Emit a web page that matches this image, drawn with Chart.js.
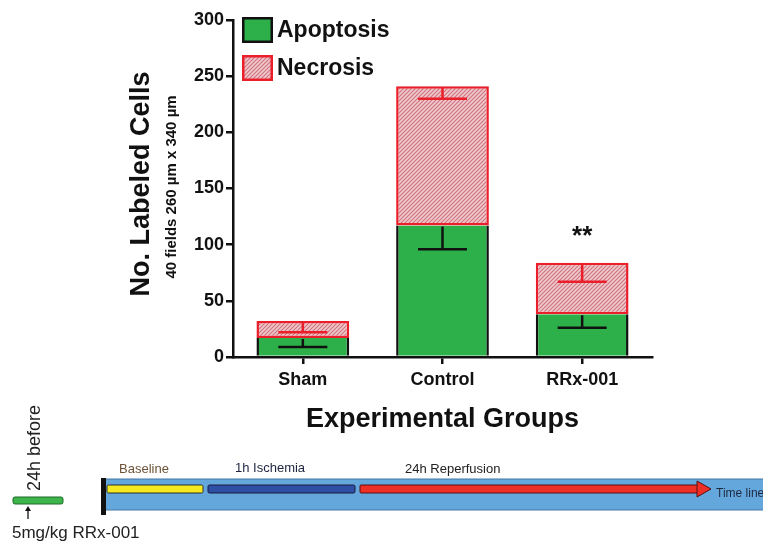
<!DOCTYPE html>
<html>
<head>
<meta charset="utf-8">
<script src="https://cdn.jsdelivr.net/npm/chart.js@4.4.1/dist/chart.umd.min.js"></script>
<style>
  body { margin: 0; background: #fff; }
  #wrap { position: relative; width: 763px; height: 547px; overflow: hidden; }
  #chart { position: absolute; left: 0; top: 0; }
  #timeline { position: absolute; left: 0; top: 0; }
</style>
</head>
<body>
<div id="wrap">
  <canvas id="chart" width="763" height="547"></canvas>
  <svg id="timeline" width="763" height="547" font-family="Liberation Sans, Arial, sans-serif">
    <!-- pre-treatment -->
    <text transform="translate(40,448) rotate(-90)" text-anchor="middle" font-size="18" fill="#222">24h before</text>
    <rect x="13" y="497" width="50" height="7" rx="2" fill="#3db54a" stroke="#1f6b2a" stroke-width="1"/>
    <line x1="28" y1="519" x2="28" y2="510" stroke="#111" stroke-width="1.3"/>
    <polygon points="25,511 31,511 28,506" fill="#111"/>
    <text x="12" y="538" font-size="17" fill="#222">5mg/kg RRx-001</text>
    <!-- protocol band -->
    <rect x="104" y="479" width="670" height="31" fill="#64a7dd" stroke="#4679a6" stroke-width="1"/>
    <rect x="101" y="478" width="5" height="37" fill="#111"/>
    <rect x="107" y="485" width="96" height="8" rx="1.5" fill="#f5ea1f" stroke="#2d2d2d" stroke-width="1"/>
    <rect x="208" y="485" width="147" height="8" rx="1.5" fill="#2d4fa5" stroke="#1b1b3a" stroke-width="1"/>
    <rect x="360" y="485" width="338" height="8" rx="1" fill="#ee2f26" stroke="#5a1010" stroke-width="1"/>
    <polygon points="697,481 711,489 697,497" fill="#ee2f26" stroke="#5a1010" stroke-width="1"/>
    <text x="119" y="473" font-size="13" fill="#6d5236">Baseline</text>
    <text x="235" y="472" font-size="13" fill="#1e2440">1h Ischemia</text>
    <text x="405" y="473" font-size="13" fill="#222">24h Reperfusion</text>
    <text x="716" y="497" font-size="12" fill="#1e2a40">Time line</text>
  </svg>
</div>
<script>
"use strict";

const groups = ["Sham", "Control", "RRx-001"];
const apoptosis = [17, 117, 38];
const necrosis = [15, 124, 46];
const apoptosisErr = [8, 21, 12];
const necrosisErr = [10, 11, 17];
const significance = ["", "", "**"];
const yTicks = [0, 50, 100, 150, 200, 250, 300];

const FONT = "'Liberation Sans', Arial, Helvetica, sans-serif";
const GREEN = "#2db04a";
const RED = "#ea1f2a";

const makeHatch = () => {
  const c = document.createElement("canvas");
  c.width = 4;
  c.height = 4;
  const g = c.getContext("2d");
  g.fillStyle = "#edc8cc";
  g.fillRect(0, 0, 4, 4);
  g.strokeStyle = "#d0727d";
  g.lineWidth = 1.1;
  g.beginPath();
  g.moveTo(-1, 5); g.lineTo(5, -1);
  g.moveTo(-1, 1); g.lineTo(1, -1);
  g.moveTo(3, 5); g.lineTo(5, 3);
  g.stroke();
  return g.createPattern(c, "repeat");
};
const hatch = makeHatch();

const errorBars = {
  id: "errorBars",
  afterDatasetsDraw(chart) {
    const { ctx } = chart;
    const y = chart.scales.y;
    const errs = [apoptosisErr, necrosisErr];
    const cols = ["#111", RED];
    ctx.save();
    ctx.lineWidth = 2.5;
    chart.data.datasets.forEach((ds, di) => {
      chart.getDatasetMeta(di).data.forEach((bar, i) => {
        let top = 0;
        for (let k = 0; k <= di; k++) top += chart.data.datasets[k].data[i];
        const low = y.getPixelForValue(top - errs[di][i]);
        ctx.strokeStyle = cols[di];
        ctx.beginPath();
        ctx.moveTo(bar.x, bar.y + 1);
        ctx.lineTo(bar.x, low);
        ctx.moveTo(bar.x - 24.5, low);
        ctx.lineTo(bar.x + 24.5, low);
        ctx.stroke();
      });
    });
    // significance marks over the stack
    const last = chart.getDatasetMeta(1).data;
    ctx.fillStyle = "#111";
    ctx.font = `bold 26px ${FONT}`;
    ctx.textAlign = "center";
    ctx.textBaseline = "middle";
    significance.forEach((s, i) => {
      if (s) ctx.fillText(s, last[i].x, last[i].y - 26);
    });
    ctx.restore();
  },
};

const titlesAndLegend = {
  id: "titlesAndLegend",
  afterDraw(chart) {
    const { ctx, chartArea } = chart;
    ctx.save();
    ctx.fillStyle = "#111";
    ctx.textAlign = "center";
    ctx.textBaseline = "middle";

    ctx.save();
    ctx.translate(142, 184);
    ctx.rotate(-Math.PI / 2);
    ctx.font = `bold 27px ${FONT}`;
    ctx.fillText("No. Labeled Cells", 0, 0);
    ctx.restore();

    ctx.save();
    ctx.translate(172, 187);
    ctx.rotate(-Math.PI / 2);
    ctx.font = `bold 15px ${FONT}`;
    ctx.fillText("40 fields 260 \u00b5m x 340 \u00b5m", 0, 0);
    ctx.restore();

    ctx.font = `bold 27px ${FONT}`;
    ctx.fillText("Experimental Groups", (chartArea.left + chartArea.right) / 2, 420);

    // legend
    const items = [
      { label: "Apoptosis", fill: GREEN, stroke: "#111", y: 17 },
      { label: "Necrosis", fill: hatch, stroke: RED, y: 55 },
    ];
    ctx.textAlign = "left";
    ctx.font = `bold 23px ${FONT}`;
    items.forEach((it) => {
      ctx.fillStyle = it.fill;
      ctx.fillRect(242, it.y, 31, 26);
      ctx.strokeStyle = it.stroke;
      ctx.lineWidth = 2.5;
      ctx.strokeRect(243.25, it.y + 1.25, 28.5, 23.5);
      ctx.fillStyle = "#111";
      ctx.fillText(it.label, 277, it.y + 14);
    });
    ctx.restore();
  },
};

new Chart(document.getElementById("chart"), {
  type: "bar",
  data: {
    labels: groups,
    datasets: [
      {
        label: "Apoptosis",
        data: apoptosis,
        backgroundColor: GREEN,
        borderColor: "#111",
        borderWidth: { top: 0, left: 2.5, right: 2.5, bottom: 0 },
        borderSkipped: false,
        barPercentage: 0.664,
        categoryPercentage: 1,
      },
      {
        label: "Necrosis",
        data: necrosis,
        backgroundColor: hatch,
        borderColor: RED,
        borderWidth: 2.5,
        borderSkipped: false,
        barPercentage: 0.664,
        categoryPercentage: 1,
      },
    ],
  },
  options: {
    responsive: false,
    animation: false,
    layout: { padding: { left: 0, top: 20, right: 111, bottom: 150 } },
    plugins: { legend: { display: false }, tooltip: { enabled: false } },
    scales: {
      x: {
        stacked: true,
        z: 1,
        afterFit: (s) => { s.height = 40; },
        grid: { offset: false, drawOnChartArea: false, tickLength: 7, lineWidth: 2.5, color: "#111" },
        border: { display: true, width: 2.5, color: "#111" },
        ticks: { color: "#111", padding: 5, font: { family: FONT, size: 18, weight: "bold" } },
      },
      y: {
        stacked: true,
        min: 0,
        max: 300,
        z: 1,
        afterFit: (s) => { s.width = 233; },
        afterBuildTicks: (s) => { s.ticks = yTicks.map((v) => ({ value: v })); },
        grid: { drawOnChartArea: false, tickLength: 7, lineWidth: 2.5, color: "#111" },
        border: { display: true, width: 2.5, color: "#111" },
        ticks: { color: "#111", padding: 2, font: { family: FONT, size: 18, weight: "bold" } },
      },
    },
  },
  plugins: [errorBars, titlesAndLegend],
});
</script>
</body>
</html>
